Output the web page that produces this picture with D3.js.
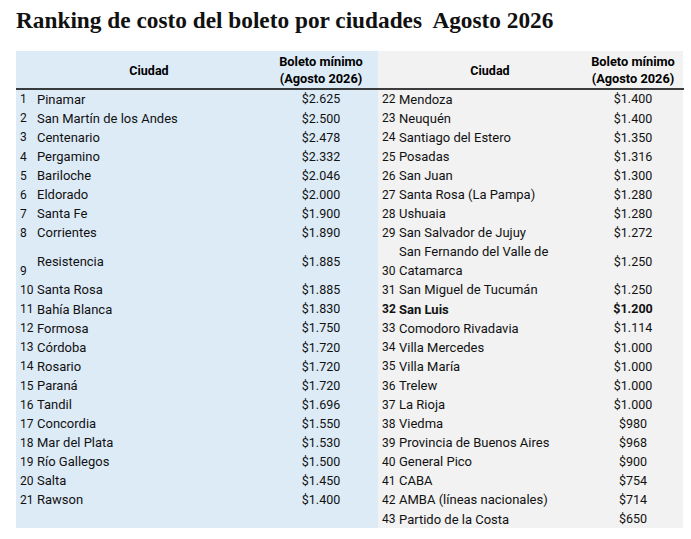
<!DOCTYPE html>
<html>
<head>
<meta charset="utf-8">
<script src="https://cdn.jsdelivr.net/npm/d3@7"></script>
<style>
  body { margin: 0; background: #fff; }
  svg text { font-family: Roboto, "Liberation Sans", sans-serif; }
</style>
</head>
<body>
<div id="content"></div>
<script>
const width = 691;
const height = 539;
const blue = '#DDEBF7';
const grey = '#F2F2F2';

const title = 'Ranking de costo del boleto por ciudades  Agosto 2026';
const headerCity = 'Ciudad';
const headerValue = ['Boleto mínimo', '(Agosto 2026)'];

const leftRanks = d3.range(1, 22);
const leftCities = ['Pinamar', 'San Martín de los Andes', 'Centenario', 'Pergamino', 'Bariloche',
  'Eldorado', 'Santa Fe', 'Corrientes', 'Resistencia', 'Santa Rosa', 'Bahía Blanca', 'Formosa',
  'Córdoba', 'Rosario', 'Paraná', 'Tandil', 'Concordia', 'Mar del Plata', 'Río Gallegos', 'Salta', 'Rawson'];
const leftValues = [2625, 2500, 2478, 2332, 2046, 2000, 1900, 1890, 1885, 1885, 1830, 1750,
  1720, 1720, 1720, 1696, 1550, 1530, 1500, 1450, 1400];

const rightRanks = d3.range(22, 44);
const rightCities = ['Mendoza', 'Neuquén', 'Santiago del Estero', 'Posadas', 'San Juan',
  'Santa Rosa (La Pampa)', 'Ushuaia', 'San Salvador de Jujuy', 'San Fernando del Valle de|Catamarca',
  'San Miguel de Tucumán', 'San Luis', 'Comodoro Rivadavia', 'Villa Mercedes', 'Villa María',
  'Trelew', 'La Rioja', 'Viedma', 'Provincia de Buenos Aires', 'General Pico', 'CABA',
  'AMBA (líneas nacionales)', 'Partido de la Costa'];
const rightValues = [1400, 1400, 1350, 1316, 1300, 1280, 1280, 1272, 1250, 1250, 1200, 1114,
  1000, 1000, 1000, 1000, 980, 968, 900, 754, 714, 650];

// rows that take two lines, and the highlighted one
const tallRanks = [9, 30];
const boldRank = 32;

const locale = d3.formatLocale({ decimal: ',', thousands: '.', grouping: [3], currency: ['$', ''] });
const money = locale.format('$,');

const svg = d3.select('#content')
  .append('svg')
  .attr('width', width)
  .attr('height', height);

svg.append('text')
  .attr('x', 16)
  .attr('y', 28)
  .style('font-family', '"Liberation Serif", serif')
  .style('font-weight', 'bold')
  .style('font-size', '23.3px')
  .style('white-space', 'pre')
  .attr('fill', '#111')
  .text(title);

const panelTop = 51;
const headLine = 89;
const panelBottom = 528;
const y = d3.scaleLinear().domain([0, 23]).range([headLine + 0.5, panelBottom + 0.5]);

const panels = [
  { x0: 16, x1: 378, fill: blue, rankX: 20, nameX: 37, cityC: 149, valueC: 321,
    ranks: leftRanks, cities: leftCities, values: leftValues },
  { x0: 378, x1: 683, fill: grey, rankX: 382, nameX: 399, cityC: 490, valueC: 633,
    ranks: rightRanks, cities: rightCities, values: rightValues }
];

panels.forEach((p) => {
  const g = svg.append('g');
  g.append('rect')
    .attr('x', p.x0).attr('y', panelTop)
    .attr('width', p.x1 - p.x0).attr('height', panelBottom - panelTop)
    .attr('fill', p.fill);

  // header
  g.append('text')
    .attr('x', p.cityC).attr('y', 71).attr('dy', '0.35em')
    .attr('text-anchor', 'middle')
    .style('font-size', '12.5px').style('font-weight', 'bold')
    .text(headerCity);
  g.selectAll('text.head')
    .data(headerValue)
    .join('text')
    .attr('class', 'head')
    .attr('x', p.valueC)
    .attr('y', (d, i) => 62 + i * 17)
    .attr('dy', '0.35em')
    .attr('text-anchor', 'middle')
    .style('font-size', '12.8px').style('font-weight', 'bold')
    .text(d => d);

  // rows
  let unit = 0;
  const rows = p.ranks.map((r, i) => {
    const span = tallRanks.includes(r) ? 2 : 1;
    const row = { rank: r, city: p.cities[i], value: p.values[i], u: unit, span };
    unit += span;
    return row;
  });

  const row = g.selectAll('g.row')
    .data(rows)
    .join('g')
    .attr('class', 'row')
    .style('font-weight', d => (d.rank === boldRank ? 'bold' : 'normal'))
    .attr('fill', '#111');

  row.append('text')
    .attr('x', p.rankX)
    .attr('y', d => y(d.u + d.span - 0.5))
    .attr('dy', '0.35em')
    .style('font-size', '12px')
    .text(d => d.rank);

  row.each(function (d) {
    const lines = d.city.split('|');
    const start = lines.length === 1 ? d.u + d.span / 2 : d.u + 0.5;
    d3.select(this).selectAll('text.city')
      .data(lines)
      .join('text')
      .attr('class', 'city')
      .attr('x', p.nameX)
      .attr('y', (t, k) => y(start + k))
      .attr('dy', '0.35em')
      .style('font-size', '13px')
      .text(t => t);
  });

  row.append('text')
    .attr('x', p.valueC)
    .attr('y', d => y(d.u + d.span / 2))
    .attr('dy', '0.35em')
    .attr('text-anchor', 'middle')
    .style('font-size', '12.5px')
    .text(d => money(d.value));
});

svg.append('line')
  .attr('x1', 16).attr('x2', 684)
  .attr('y1', headLine).attr('y2', headLine)
  .attr('stroke', '#000')
  .attr('stroke-width', 1.5);
</script>
</body>
</html>
